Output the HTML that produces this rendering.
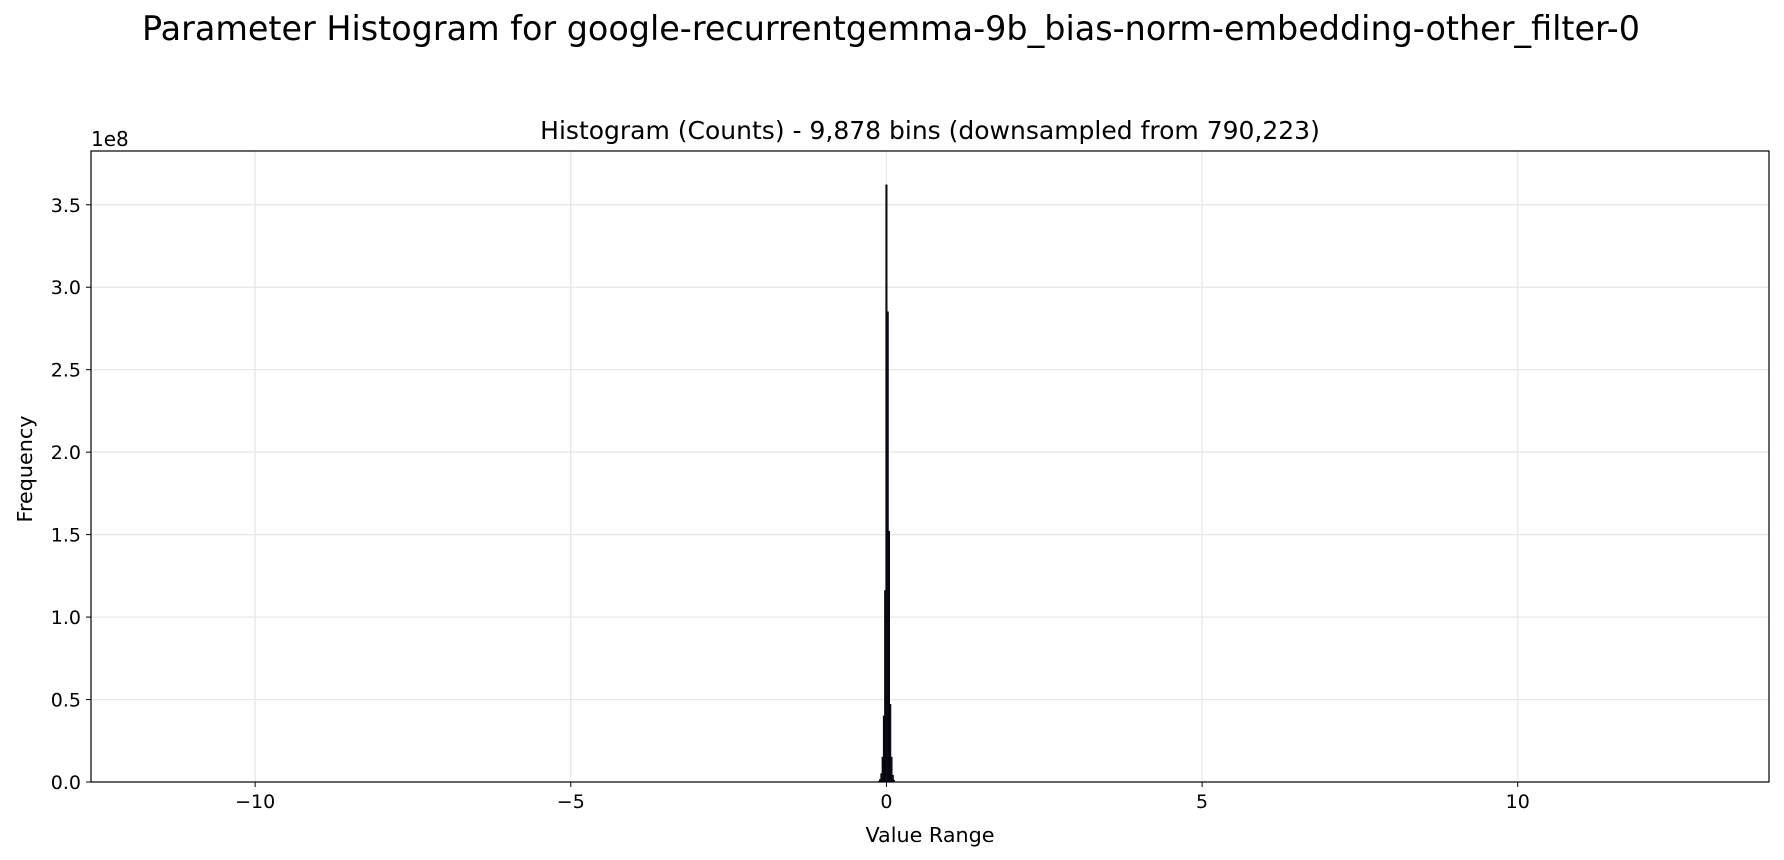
<!DOCTYPE html>
<html><head><meta charset="utf-8">
<style>
body{margin:0;background:#fff;}
svg{display:block;font-family:"DejaVu Sans","Liberation Sans",sans-serif;}
</style></head>
<body>
<svg id="chart" width="1784" height="860" viewBox="0 0 1784 860">
<rect width="1784" height="860" fill="#fff"/>
<text x="891" y="40" font-size="33.4" text-anchor="middle" fill="#000">Parameter Histogram for google-recurrentgemma-9b_bias-norm-embedding-other_filter-0</text>
<text x="930" y="139" font-size="25" text-anchor="middle" fill="#000">Histogram (Counts) - 9,878 bins (downsampled from 790,223)</text>
<g id="grid"></g>
<g id="bars"></g>
<rect x="91" y="151" width="1678" height="631" fill="none" stroke="#000" stroke-width="1.2"/>
<g id="xticks"></g>
<g id="yticks"></g>
<text x="91" y="146" font-size="20" fill="#000">1e8</text>
<text x="930" y="842" font-size="20.7" text-anchor="middle" fill="#000">Value Range</text>
<text x="32" y="469" font-size="20.7" text-anchor="middle" fill="#000" transform="rotate(-90 32 469)">Frequency</text>
</svg>
<script>
const binCenters=[-0.12,-0.10,-0.08,-0.06,-0.04,-0.02,0.0,0.02,0.04,0.06,0.08,0.10,0.12];
const binCounts=[0.004,0.015,0.05,0.15,0.40,1.16,3.62,2.85,1.52,0.47,0.15,0.04,0.01];
const xTicks=[-10,-5,0,5,10];
const xTickLabels=["\u221210","\u22125","0","5","10"];
const yTicks=[0,0.5,1,1.5,2,2.5,3,3.5];
const yTickLabels=["0.0","0.5","1.0","1.5","2.0","2.5","3.0","3.5"];
const binWidth=0.02;
const L=91,R=1769,T=151,B=782,xMin=-12.6,xMax=13.98,yMin=0,yMax=3.826;
const NS="http://www.w3.org/2000/svg";
function xs(v){return L+(v-xMin)/(xMax-xMin)*(R-L);}
function ys(v){return B-(v-yMin)/(yMax-yMin)*(B-T);}
function mk(tag,attrs,parent){const e=document.createElementNS(NS,tag);for(const k in attrs)e.setAttribute(k,attrs[k]);parent.appendChild(e);return e;}
const grid=document.getElementById('grid'),bars=document.getElementById('bars'),xg=document.getElementById('xticks'),yg=document.getElementById('yticks');
xTicks.forEach((t,i)=>{
 const x=xs(t);
 const g=mk('line',{x1:x,x2:x,y1:T,y2:B,stroke:'#e6e6e6','stroke-width':1.2},grid);
 
 
 const tk=mk('line',{x1:x,x2:x,y1:B,y2:B+5,stroke:'#000','stroke-width':1},xg);
 
 
 const lb=mk('text',{x:x,y:B+26,'font-size':19,'text-anchor':'middle',fill:'#000'},xg);
 lb.textContent=xTickLabels[i];
 
 
});
yTicks.forEach((t,i)=>{
 const y=ys(t);
 if(t>0){const g=mk('line',{x1:L,x2:R,y1:y,y2:y,stroke:'#e6e6e6','stroke-width':1.2},grid);
 
 }
 const tk=mk('line',{x1:L-5,x2:L,y1:y,y2:y,stroke:'#000','stroke-width':1},yg);
 
 
 const lb=mk('text',{x:L-10,y:y+7,'font-size':19,'text-anchor':'end',fill:'#000'},yg);
 lb.textContent=yTickLabels[i];
 
 
});
binCenters.forEach((c,i)=>{
 const x0=xs(c-binWidth/2),x1=xs(c+binWidth/2),y=ys(binCounts[i]);
 const r=mk('rect',{x:x0,y:y,width:Math.max(x1-x0,0.5),height:B-y,fill:'#1a1a3a',stroke:'#000','stroke-width':0.8},bars);
 
 
});
</script>
</body></html>
